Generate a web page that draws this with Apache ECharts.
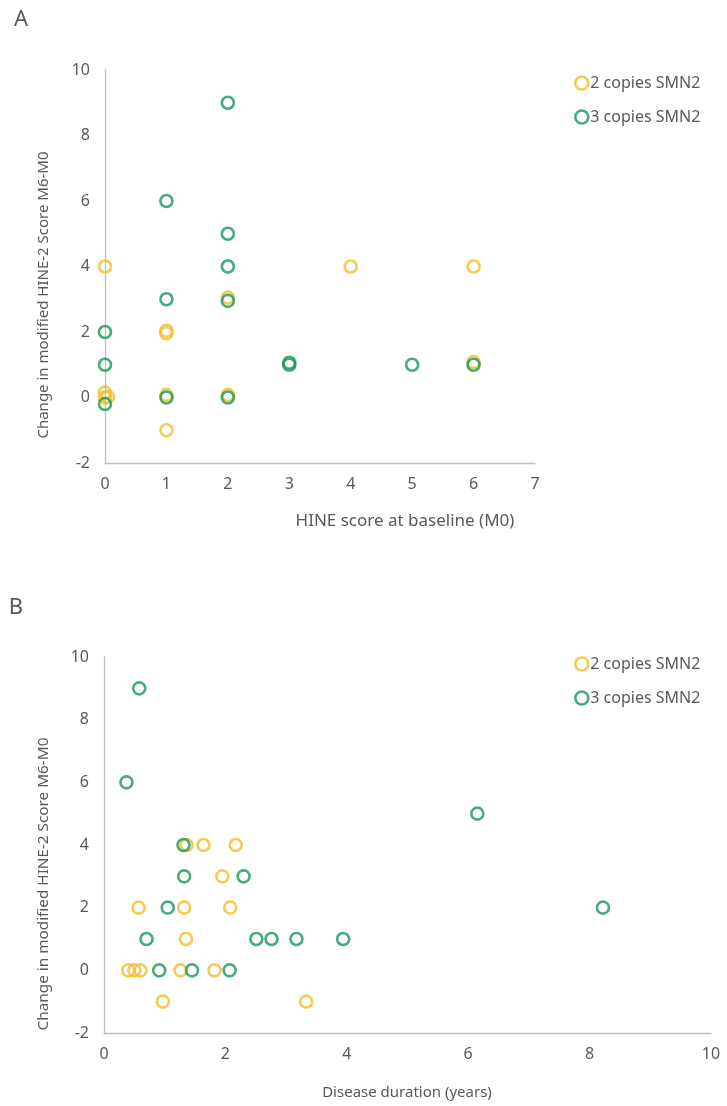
<!DOCTYPE html>
<html>
<head>
<meta charset="utf-8">
<script src="https://cdn.jsdelivr.net/npm/echarts@6/dist/echarts.min.js"></script>
<style>
html,body{margin:0;padding:0;background:#fff;}
#chart{width:727px;height:1106px;}
</style>
</head>
<body>
<div id="chart"></div>
<script>
// ---- Data ----
var seriesNames = ['2 copies SMN2', '3 copies SMN2'];
var yTicks = [-2, 0, 2, 4, 6, 8, 10];
var xTicksA = [0, 1, 2, 3, 4, 5, 6, 7];
var xTicksB = [0, 2, 4, 6, 8, 10];

// Panel A: HINE score at baseline (x) vs change (y)
var a2copies = [
  [0, 4], [0, 0.15], [0, 0], [0.05, 0.02],
  [1, 2.04], [1, 1.96], [1, 0.08], [1, -1],
  [2, 3.05], [2, 0.08],
  [4, 4], [6, 4], [6, 1.08]
];
var a3copies = [
  [0, 2], [0, 1], [0, -0.2],
  [1, 6], [1, 3], [1, 0],
  [2, 9], [2, 5], [2, 4], [2, 2.95], [2, 0],
  [3, 1], [3, 1.06],
  [5, 1], [6, 1]
];

// Panel B: disease duration (years) vs change (y)
var b2copies = [
  [0.4, 0], [0.5, 0], [0.6, 0], [0.97, -1],
  [0.57, 2], [1.32, 2], [1.35, 1], [1.26, 0],
  [1.82, 0], [1.95, 3], [2.08, 2], [1.64, 4],
  [2.17, 4], [1.36, 4], [3.33, -1]
];
var b3copies = [
  [0.37, 6], [0.58, 9], [1.31, 4], [1.32, 3],
  [2.3, 3], [1.05, 2], [0.7, 1], [2.51, 1],
  [2.76, 1], [3.17, 1], [3.94, 1], [0.91, 0],
  [1.45, 0], [2.07, 0], [6.15, 5], [8.22, 2]
];

var gold = '#F2BE2A';
var green = '#1A9656';
var textGray = '#595959';
var axisGray = '#BFBFBF';
var fontFam = '"Noto Sans", "Open Sans", sans-serif';

function yAxis(gridIndex) {
  return {
    type: 'value', gridIndex: gridIndex,
    min: yTicks[0], max: yTicks[yTicks.length - 1], interval: 2,
    axisLine: { show: true, onZero: false, lineStyle: { color: axisGray, width: 1.3 } },
    axisTick: { show: false },
    splitLine: { show: false },
    axisLabel: { color: textGray, fontSize: 16, fontFamily: fontFam, margin: 15 }
  };
}
function xAxis(gridIndex, ticks) {
  return {
    type: 'value', gridIndex: gridIndex,
    min: ticks[0], max: ticks[ticks.length - 1], interval: ticks[1] - ticks[0],
    axisLine: { show: true, onZero: false, lineStyle: { color: axisGray, width: 1.3 } },
    axisTick: { show: false },
    splitLine: { show: false },
    axisLabel: { color: textGray, fontSize: 16, fontFamily: fontFam, margin: 13 }
  };
}
function scatter(name, data, color, idx) {
  return {
    name: name, type: 'scatter', xAxisIndex: idx, yAxisIndex: idx,
    data: data, symbol: 'circle', symbolSize: 12,
    itemStyle: { color: 'rgba(0,0,0,0)', borderColor: color, borderWidth: 2.6 },
    emphasis: { disabled: true }
  };
}
function legend(top) {
  return {
    orient: 'vertical', left: 569, top: top,
    data: seriesNames, icon: 'circle',
    itemWidth: 13, itemHeight: 13, itemGap: 18,
    itemStyle: { borderWidth: 2.6 },
    textStyle: { color: textGray, fontSize: 16, fontFamily: fontFam, padding: [0, 0, 0, -3] },
    selectedMode: false
  };
}
function text(x, y, str, size, rot) {
  return {
    type: 'text', x: x, y: y, rotation: rot || 0,
    style: { text: str, fill: textGray, fontSize: size, fontFamily: fontFam,
             align: 'center', verticalAlign: 'middle' }
  };
}

var chart = echarts.init(document.getElementById('chart'), null, { renderer: 'canvas' });
chart.setOption({
  backgroundColor: '#fff',
  animation: false,
  grid: [
    { left: 105, top: 70, width: 430, height: 393 },
    { left: 104, top: 657, width: 607, height: 376 }
  ],
  xAxis: [xAxis(0, xTicksA), xAxis(1, xTicksB)],
  yAxis: [yAxis(0), yAxis(1)],
  legend: [legend(70), legend(651)],
  series: [
    scatter(seriesNames[0], a2copies, gold, 0),
    scatter(seriesNames[1], a3copies, green, 0),
    scatter(seriesNames[0], b2copies, gold, 1),
    scatter(seriesNames[1], b3copies, green, 1)
  ],
  graphic: [
    text(21, 20, 'A', 22),
    text(16, 608, 'B', 22),
    text(44, 295, 'Change in modified HINE-2 Score M6-M0', 15, Math.PI / 2),
    text(44, 884, 'Change in modified HINE-2 Score M6-M0', 15.3, Math.PI / 2),
    text(405, 521, 'HINE score at baseline (M0)', 17),
    text(407, 1093, 'Disease duration (years)', 15)
  ]
});
</script>
</body>
</html>
